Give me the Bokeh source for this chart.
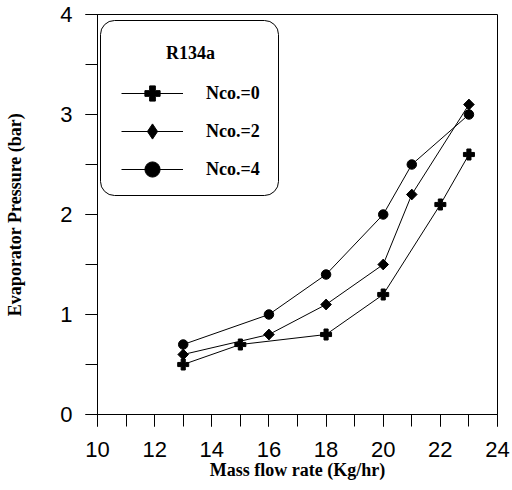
import math
from bokeh.plotting import figure
from bokeh.models import (Range1d, SingleIntervalTicker, Legend, LegendItem,
                          Label, BoxAnnotation)
from bokeh.embed import file_html
from bokeh.resources import INLINE

# ---- data ----
x_nco0 = [13, 15, 18, 20, 22, 23]
y_nco0 = [0.5, 0.7, 0.8, 1.2, 2.1, 2.6]
x_nco2 = [13, 16, 18, 20, 21, 23]
y_nco2 = [0.6, 0.8, 1.1, 1.5, 2.2, 3.1]
x_nco4 = [13, 16, 18, 20, 21, 23]
y_nco4 = [0.7, 1.0, 1.4, 2.0, 2.5, 3.0]
series_labels = ["Nco.=0", "Nco.=2", "Nco.=4"]
legend_title = "R134a"
x_title = "Mass flow rate (Kg/hr)"
y_title = "Evaporator Pressure (bar)"

SERIF = "Liberation Serif"
SANS = "Liberation Sans"

p = figure(width=511, height=489, output_backend="svg", toolbar_location=None,
           x_range=Range1d(10, 24), y_range=Range1d(0, 4),
           min_border_left=97, min_border_right=14,
           min_border_top=14, min_border_bottom=75)
p.background_fill_color = "white"
p.border_fill_color = "white"
p.outline_line_color = "black"
p.outline_line_width = 1
p.xgrid.visible = False
p.ygrid.visible = False

p.xaxis.ticker = SingleIntervalTicker(interval=2, num_minor_ticks=2)
p.yaxis.ticker = SingleIntervalTicker(interval=1, num_minor_ticks=2)
p.xaxis.axis_label = x_title
p.yaxis.axis_label = y_title

for ax in (p.xaxis[0], p.yaxis[0]):
    ax.axis_line_color = "black"
    ax.major_tick_line_color = "black"
    ax.minor_tick_line_color = "black"
    ax.major_tick_in = 0
    ax.major_tick_out = 12
    ax.minor_tick_in = 0
    ax.minor_tick_out = 12
    ax.major_label_text_font = SANS
    ax.major_label_text_font_size = "22px"
    ax.major_label_text_color = "black"
    ax.axis_label_text_font = SERIF
    ax.axis_label_text_font_style = "bold"
    ax.axis_label_text_font_size = "18px"
    ax.axis_label_text_color = "black"

p.xaxis.major_label_standoff = 15
p.xaxis.axis_label_standoff = 0
p.yaxis.major_label_standoff = 13
p.yaxis.axis_label_standoff = 32

# ---- series ----
l0 = p.line(x_nco0, y_nco0, line_color="black", line_width=1)
s0 = p.scatter(x_nco0, y_nco0, marker="plus", size=11,
               fill_color="black", line_color="black")
l2 = p.line(x_nco2, y_nco2, line_color="black", line_width=1)
# diamond marker (used by the legend key) under a rotated square (plot look)
s2_key = p.scatter(x_nco2, y_nco2, marker="diamond", size=10,
                   fill_color="black", line_color="black")
s2 = p.scatter(x_nco2, y_nco2, marker="square", angle=math.pi / 4, size=7.5,
               fill_color="black", line_color="black")
l4 = p.line(x_nco4, y_nco4, line_color="black", line_width=1)
s4 = p.scatter(x_nco4, y_nco4, marker="circle", size=9.5,
               fill_color="black", line_color="black")

# ---- legend frame (rounded box) ----
box_kw = dict(left=3, right=181, top=394, bottom=219,
              left_units="screen", right_units="screen",
              top_units="screen", bottom_units="screen",
              fill_color="white", fill_alpha=1.0,
              line_color="black", line_width=1, line_alpha=1.0)
if "border_radius" in BoxAnnotation.properties():
    box_kw["border_radius"] = 14
box = BoxAnnotation(**box_kw)
p.add_layout(box)

legend = Legend(items=[
    LegendItem(label=series_labels[0], renderers=[l0, s0]),
    LegendItem(label=series_labels[1], renderers=[l2, s2_key]),
    LegendItem(label=series_labels[2], renderers=[l4, s4]),
], location=(24, 226))
legend.border_line_color = None
legend.background_fill_alpha = 0
legend.padding = 0
legend.margin = 0
legend.spacing = 0
legend.glyph_width = 62
legend.glyph_height = 38
legend.label_standoff = 23
legend.label_text_font = SERIF
legend.label_text_font_style = "bold"
legend.label_text_font_size = "18px"
legend.label_text_color = "black"
p.add_layout(legend)

title_lbl = Label(x=93, y=362, x_units="screen", y_units="screen",
                  text=legend_title, text_align="center", text_baseline="middle",
                  text_font=SERIF, text_font_style="bold",
                  text_font_size="18px", text_color="black")
p.add_layout(title_lbl)

open("out.html", "w").write(file_html(p, INLINE))
